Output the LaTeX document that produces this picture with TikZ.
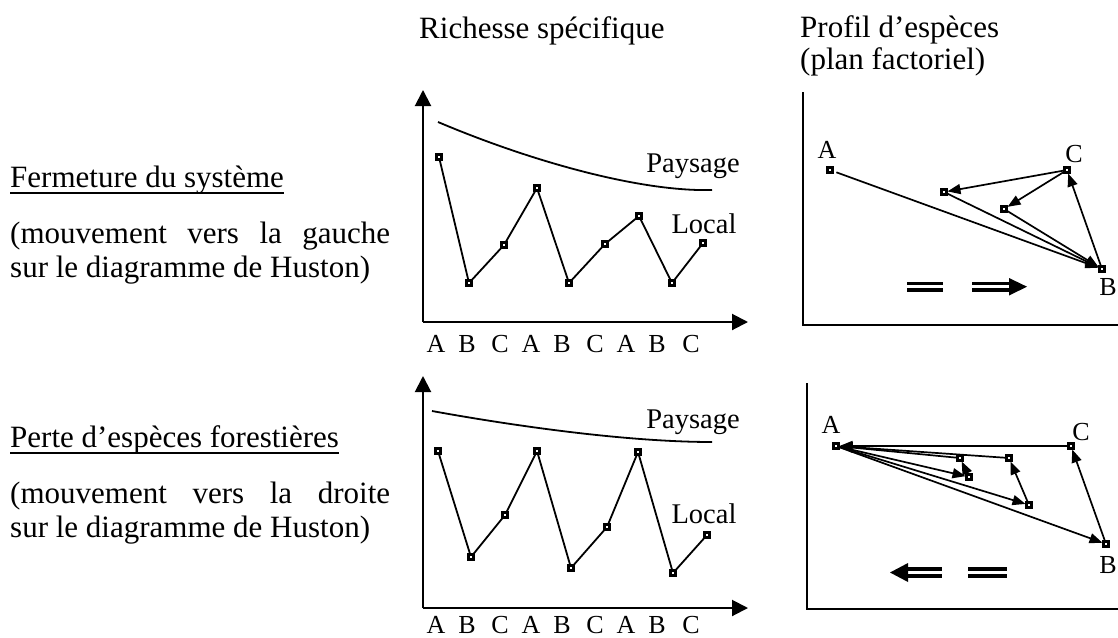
\documentclass[tikz,border=0pt]{standalone}
\usepackage{fontspec}
\setmainfont{Liberation Serif}
\usetikzlibrary{arrows.meta}

\begin{document}
\begin{tikzpicture}[x=1pt,y=-1pt,
  txt/.style={font=\fontsize{31}{34}\selectfont,inner sep=0pt,anchor=base west},
  lbl/.style={font=\fontsize{28.5}{30}\selectfont,inner sep=0pt,anchor=base},
  tick/.style={font=\fontsize{26}{28}\selectfont,inner sep=0pt,anchor=base},
  pt/.style={rectangle,draw,fill=white,line width=2.2pt,minimum size=5pt,inner sep=0pt,outer sep=1pt},
  axis/.style={line width=2pt,-{Triangle[length=16pt,width=16pt]}},
  frame/.style={line width=2pt},
  series/.style={line width=1.8pt},
  move/.style={line width=1.7pt,-{Triangle[length=13pt,width=10pt]}},
  bar/.style={line width=3.4pt},
  uline/.style={line width=1.4pt}]
\useasboundingbox (0,0) rectangle (1118,637);

% ---------- column headings ----------
\node[txt] (h1) at (419,38) {Richesse spécifique};
\node[txt] (h2) at (800,37) {Profil d’espèces};
\node[txt] (h3) at (800,69) {(plan factoriel)};

% ---------- row captions ----------
\node[txt] (c1) at (10,187) {Fermeture du système};
\draw[uline] ([yshift=-6pt]c1.base west) -- ([yshift=-6pt]c1.base east);
\node[txt] (c2) at (10,243) {\makebox[380pt][s]{(mouvement vers la gauche}};
\node[txt] (c3) at (10,277) {sur le diagramme de Huston)};

\node[txt] (d1) at (10,447) {Perte d’espèces forestières};
\draw[uline] ([yshift=-6pt]d1.base west) -- ([yshift=-6pt]d1.base east);
\node[txt] (d2) at (10,503) {\makebox[380pt][s]{(mouvement vers la droite}};
\node[txt] (d3) at (10,537) {sur le diagramme de Huston)};

% ---------- species richness, top ----------
\coordinate (o1) at (423,322);
\coordinate (y1) at (423,90);
\coordinate (x1) at (748,322);
\draw[axis] (o1) -- (y1);
\draw[axis] (o1) -- (x1);
\coordinate (pa1) at (438,122);
\coordinate (pb1) at (712,190);
\draw[series] (pa1) .. controls (530,161) and (640,192) .. (pb1);
\node[lbl] (pay1) at (693,172) {Paysage};
\node[lbl] (loc1) at (704,233) {Local};
\foreach \i/\x/\y in {1/439/157,2/469/283,3/504/245,4/537/188,5/569/283,6/605/244,7/639/216,8/672/283,9/703/243}
  \node[pt] (t\i) at (\x,\y) {};
\draw[series] (t1) -- (t2) -- (t3) -- (t4) -- (t5) -- (t6) -- (t7) -- (t8) -- (t9);
\foreach \i/\x/\s in {1/436/A,2/467/B,3/500/C,4/531/A,5/562/B,6/595/C,7/626/A,8/657/B,9/691/C}
  \node[tick] (ta\i) at (\x,352) {\s};

% ---------- species richness, bottom ----------
\coordinate (o2) at (423,608);
\coordinate (y2) at (423,376);
\coordinate (x2) at (748,608);
\draw[axis] (o2) -- (y2);
\draw[axis] (o2) -- (x2);
\coordinate (pa2) at (432,411);
\coordinate (pb2) at (712,442);
\draw[series] (pa2) .. controls (520,427) and (630,442) .. (pb2);
\node[lbl] (pay2) at (693,428) {Paysage};
\node[lbl] (loc2) at (704,523) {Local};
\foreach \i/\x/\y in {1/438/451,2/471/557,3/505/515,4/537/451,5/571/568,6/607/527,7/638/452,8/673/573,9/707/535}
  \node[pt] (b\i) at (\x,\y) {};
\draw[series] (b1) -- (b2) -- (b3) -- (b4) -- (b5) -- (b6) -- (b7) -- (b8) -- (b9);
\foreach \i/\x/\s in {1/436/A,2/467/B,3/500/C,4/531/A,5/562/B,6/595/C,7/626/A,8/657/B,9/691/C}
  \node[tick] (ba\i) at (\x,633) {\s};

% ---------- factorial plane, top ----------
\coordinate (f1t) at (803,92);
\coordinate (f1o) at (803,325);
\coordinate (f1r) at (1118,325);
\draw[frame] (f1t) -- (f1o) -- (f1r);
\node[pt] (rA) at (830,170) {};
\node[pt] (rC) at (1067,170) {};
\node[pt] (rB) at (1102,269) {};
\node[pt] (rP1) at (944,192) {};
\node[pt] (rP2) at (1004,209) {};
\node[tick] (lA1) at (827,158) {A};
\node[tick] (lC1) at (1074,162) {C};
\node[tick] (lB1) at (1108,295) {B};
\draw[move,shorten <=3pt] (rA) -- (rB);
\draw[move] (rB) -- (rC);
\draw[move] (rC) -- (rP1);
\draw[move] (rC) -- (rP2);
\draw[move] (rP1) -- (rB);
\draw[move] (rP2) -- (rB);
% direction symbols
\draw[bar] (907,283.5) -- (943,283.5);
\draw[bar] (907,290) -- (943,290);
\draw[bar] (972,283.5) -- (1012,283.5);
\draw[bar] (972,290) -- (1012,290);
\fill (1009,278) -- (1027,286.7) -- (1009,295.5) -- cycle;

% ---------- factorial plane, bottom ----------
\coordinate (f2t) at (807,383);
\coordinate (f2o) at (807,609);
\coordinate (f2r) at (1118,609);
\draw[frame] (f2t) -- (f2o) -- (f2r);
\node[pt] (sA) at (836,446) {};
\node[pt] (sC) at (1071,446) {};
\node[pt] (sB) at (1106,544) {};
\node[pt] (sQ1) at (960,458) {};
\node[pt] (sQ2) at (969,477) {};
\node[pt] (sQ3) at (1009,458) {};
\node[pt] (sQ4) at (1029,505) {};
\node[tick] (lA2) at (831,433) {A};
\node[tick] (lC2) at (1081,440) {C};
\node[tick] (lB2) at (1108,573) {B};
\draw[move] (sA) -- (sB);
\draw[move] (sB) -- (sC);
\draw[move] (sC) -- (sA);
\draw[move] (sA) -- (sQ4);
\draw[move] (sQ4) -- (sQ3);
\draw[move] (sQ3) -- (sA);
\draw[move] (sA) -- (sQ2);
\draw[move] (sQ2) -- (sQ1);
\draw[move] (sQ1) -- (sA);
% direction symbols
\fill (890,572.5) -- (908,563) -- (908,582) -- cycle;
\draw[bar] (905,569) -- (942,569);
\draw[bar] (905,576) -- (942,576);
\draw[bar] (968,569) -- (1007,569);
\draw[bar] (968,576) -- (1007,576);
\end{tikzpicture}
\end{document}
